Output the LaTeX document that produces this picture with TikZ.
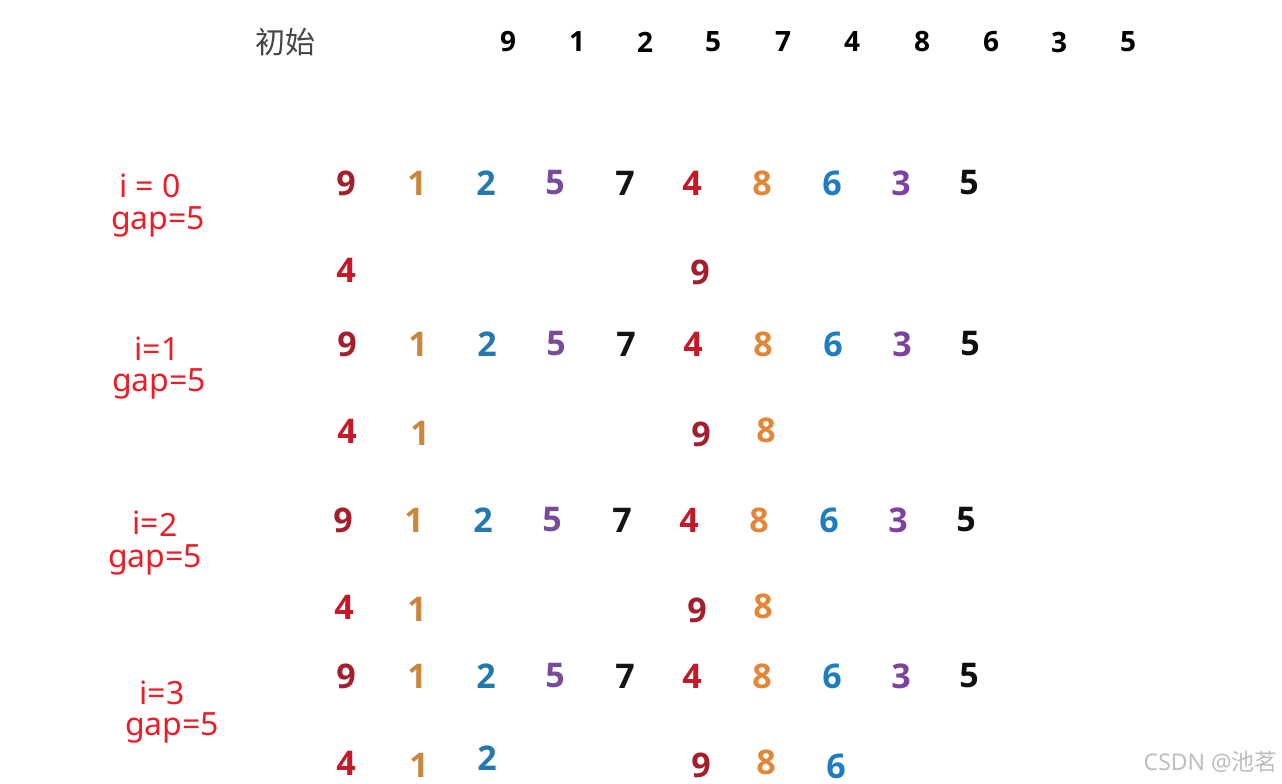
\documentclass[tikz,border=0pt]{standalone}
\usepackage{fontspec}
\setmainfont{Open Sans}
\newfontfamily\numfont{Open Sans}
\newfontfamily\lblfont{Noto Sans}
\newfontfamily\cjk{Noto Sans CJK SC}
\definecolor{cnine}{RGB}{165,30,45}
\definecolor{cone}{RGB}{200,135,60}
\definecolor{ctwo}{RGB}{35,120,175}
\definecolor{cfive}{RGB}{120,75,155}
\definecolor{cseven}{RGB}{20,20,20}
\definecolor{cfour}{RGB}{195,25,40}
\definecolor{ceight}{RGB}{225,135,55}
\definecolor{csix}{RGB}{30,125,190}
\definecolor{cthree}{RGB}{125,65,160}
\definecolor{clast}{RGB}{15,15,15}
\definecolor{lblred}{RGB}{235,30,40}
\tikzset{
  topnum/.style={inner sep=0pt, font=\numfont\bfseries\fontsize{28}{28}\selectfont, text=black},
  num/.style={inner sep=0pt, font=\numfont\bfseries\fontsize{34}{34}\selectfont},
  lbl/.style={inner sep=0pt, font=\lblfont\fontsize{32}{32}\selectfont, text=lblred},
}
\begin{document}
\begin{tikzpicture}[x=1pt,y=-1pt]
\useasboundingbox (0,0) rectangle (1282,784);
\fill[white] (0,0) rectangle (1282,784);
% top row
\node[inner sep=0pt, font=\cjk\fontsize{30}{30}\selectfont, text={rgb,255:red,70;green,70;blue,70}] (init) at (285,42) {初始};
\foreach \x/\d [count=\i] in {508/9,577/1,645/2,713/5,783/7,852/4,922/8,991/6,1059/3,1128/5}
  \node[topnum] (t\i) at (\x,42) {\d};
% full rows
\foreach \y/\dx [count=\r] in {183/0,344/1,520/-3,676/0}{
  \foreach \x/\d/\c [count=\i] in {346/9/cnine,417/1/cone,486/2/ctwo,555/5/cfive,625/7/cseven,692/4/cfour,762/8/ceight,832/6/csix,901/3/cthree,969/5/clast}
    \node[num, text=\c] (r\r c\i) at (\x+\dx,\y) {\d};
}
% partial rows
\node[num, text=cfour] (a1) at (346,270) {4};
\node[num, text=cnine] (a2) at (700,272) {9};
\node[num, text=cfour] (b1) at (347,431) {4};
\node[num, text=cone] (b2) at (420,433) {1};
\node[num, text=cnine] (b3) at (701,434) {9};
\node[num, text=ceight] (b4) at (766,430) {8};
\node[num, text=cfour] (c1) at (344,607) {4};
\node[num, text=cone] (c2) at (417,609) {1};
\node[num, text=cnine] (c3) at (697,610) {9};
\node[num, text=ceight] (c4) at (763,606) {8};
\node[num, text=cfour] (d1) at (346,763) {4};
\node[num, text=cone] (d2) at (419,765) {1};
\node[num, text=ctwo] (d3) at (487,758) {2};
\node[num, text=cnine] (d4) at (701,765) {9};
\node[num, text=ceight] (d5) at (766,762) {8};
\node[num, text=csix] (d6) at (836,766) {6};
% labels
\node[lbl] (i0) at (150,186) {i = 0};
\node[lbl] (g0) at (158,222) {gap=5};
\node[lbl] (i1) at (157,349) {i=1};
\node[lbl] (g1) at (159,384) {gap=5};
\node[lbl] (i2) at (155,524) {i=\raisebox{-2pt}{2}};
\node[lbl] (g2) at (155,560) {gap=5};
\node[lbl] (i3) at (162,693) {i=3};
\node[lbl] (g3) at (172,728) {gap=5};
% watermark
\node[inner sep=0pt, font=\lblfont\fontsize{23}{23}\selectfont, text={rgb,255:red,190;green,190;blue,190}, anchor=east] (wm) at (1278,762) {CSDN @\cjk 池茗};
\end{tikzpicture}
\end{document}
